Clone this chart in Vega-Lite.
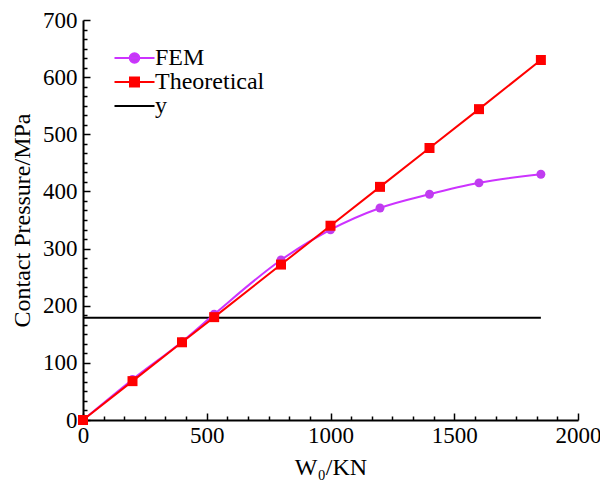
{
  "$schema": "https://vega.github.io/schema/vega-lite/v6.json",
  "width": 495,
  "height": 400,
  "autosize": "none",
  "padding": {"left": 83, "top": 20, "right": 22, "bottom": 60},
  "background": "white",
  "config": {
    "font": "Liberation Serif",
    "view": {"stroke": null},
    "axis": {
      "grid": false,
      "labelFont": "Liberation Serif",
      "labelFontSize": 23,
      "labelColor": "black",
      "titleFont": "Liberation Serif",
      "titleFontSize": 24,
      "titleFontWeight": "normal",
      "titleColor": "black",
      "domainColor": "black",
      "domainWidth": 2,
      "tickColor": "black",
      "tickWidth": 1.5,
      "labelFlush": false,
      "labelOverlap": false,
      "format": "d"
    }
  },
  "datasets": {
    "pts": [
      {"series": "FEM", "load": 0, "pressure": 0},
      {"series": "FEM", "load": 200, "pressure": 71},
      {"series": "FEM", "load": 400, "pressure": 137},
      {"series": "FEM", "load": 530, "pressure": 185},
      {"series": "FEM", "load": 800, "pressure": 280},
      {"series": "FEM", "load": 1000, "pressure": 333},
      {"series": "FEM", "load": 1200, "pressure": 371},
      {"series": "FEM", "load": 1400, "pressure": 395},
      {"series": "FEM", "load": 1600, "pressure": 415},
      {"series": "FEM", "load": 1850, "pressure": 430},
      {"series": "Theoretical", "load": 0, "pressure": 0},
      {"series": "Theoretical", "load": 200, "pressure": 68},
      {"series": "Theoretical", "load": 400, "pressure": 136},
      {"series": "Theoretical", "load": 530, "pressure": 180},
      {"series": "Theoretical", "load": 800, "pressure": 272},
      {"series": "Theoretical", "load": 1000, "pressure": 340},
      {"series": "Theoretical", "load": 1200, "pressure": 408},
      {"series": "Theoretical", "load": 1400, "pressure": 476},
      {"series": "Theoretical", "load": 1600, "pressure": 544},
      {"series": "Theoretical", "load": 1850, "pressure": 630},
      {"series": "y", "load": 0, "pressure": 179},
      {"series": "y", "load": 1850, "pressure": 179}
    ]
  },
  "data": {"name": "pts"},
  "layer": [
    {
      "transform": [{"filter": "datum.series === 'y'"}],
      "mark": {"type": "line", "strokeWidth": 2},
      "encoding": {
        "x": {
          "field": "load", "type": "quantitative",
          "scale": {"domain": [0, 2000], "nice": false},
          "axis": {"values": [0, 500, 1000, 1500, 2000], "tickSize": -7, "labelPadding": 11, "title": "W₀/KN", "orient": "bottom", "titlePadding": 8}
        },
        "y": {
          "field": "pressure", "type": "quantitative",
          "scale": {"domain": [0, 700], "nice": false},
          "axis": {"values": [0, 100, 200, 300, 400, 500, 600, 700], "tickSize": -7, "labelPadding": 13, "title": "Contact Pressure/MPa", "orient": "left", "titlePadding": 8}
        },
        "color": {
          "field": "series", "type": "nominal",
          "scale": {"domain": ["FEM", "Theoretical", "y"], "range": ["#CC33FF", "#FF0000", "#000000"]},
          "legend": {
            "orient": "none",
            "legendX": 39.5,
            "legendY": 26,
            "title": null,
            "labelFont": "Liberation Serif",
            "labelFontSize": 20,
            "labelColor": "black",
            "labelOffset": 8.5,
            "rowPadding": 0,
            "symbolSize": 400,
            "symbolStrokeWidth": 2,
            "encode": {
              "labels": {
                "update": {
                  "fontSize": {"value": 24}
                }
              },
              "symbols": {
                "update": {
                  "shape": {"signal": "datum.value === 'FEM' ? 'M-2,0H2M0.48,0A0.48,0.48,0,1,1,-0.48,0A0.48,0.48,0,1,1,0.48,0Z' : datum.value === 'Theoretical' ? 'M-2,0H2M-0.45,-0.45H0.45V0.45H-0.45Z' : 'M-2,0H2'"},
                  "fill": {"signal": "datum.value === 'FEM' ? '#C03CF0' : datum.value === 'Theoretical' ? '#FF0000' : 'transparent'"},
                  "stroke": {"signal": "datum.value === 'FEM' ? '#CC33FF' : datum.value === 'Theoretical' ? '#FF0000' : '#000000'"},
                  "strokeWidth": {"value": 2},
                  "opacity": {"value": 1}
                }
              }
            }
          }
        }
      }
    },
    {
      "transform": [{"filter": "datum.series === 'FEM'"}],
      "mark": {"type": "line", "strokeWidth": 2, "interpolate": "monotone"},
      "encoding": {
        "x": {
          "field": "load", "type": "quantitative",
          "axis": {"values": [83.333, 166.667, 250, 333.333, 416.667, 583.333, 666.667, 750, 833.333, 916.667, 1083.333, 1166.667, 1250, 1333.333, 1416.667, 1583.333, 1666.667, 1750, 1833.333, 1916.667], "tickSize": -4, "labels": false, "domain": false, "title": null, "orient": "bottom"}
        },
        "y": {
          "field": "pressure", "type": "quantitative",
          "axis": {"values": [16.667, 33.333, 50, 66.667, 83.333, 116.667, 133.333, 150, 166.667, 183.333, 216.667, 233.333, 250, 266.667, 283.333, 316.667, 333.333, 350, 366.667, 383.333, 416.667, 433.333, 450, 466.667, 483.333, 516.667, 533.333, 550, 566.667, 583.333, 616.667, 633.333, 650, 666.667, 683.333], "tickSize": -4, "labels": false, "domain": false, "title": null, "orient": "left"}
        },
        "color": {"field": "series", "type": "nominal"}
      }
    },
    {
      "transform": [{"filter": "datum.series === 'FEM'"}],
      "mark": {"type": "point", "shape": "circle", "filled": true, "size": 80, "color": "#C03CF0", "opacity": 1},
      "encoding": {
        "x": {"field": "load", "type": "quantitative", "axis": null},
        "y": {"field": "pressure", "type": "quantitative", "axis": null}
      }
    },
    {
      "transform": [{"filter": "datum.series === 'Theoretical'"}],
      "mark": {"type": "line", "strokeWidth": 2},
      "encoding": {
        "x": {"field": "load", "type": "quantitative", "axis": null},
        "y": {"field": "pressure", "type": "quantitative", "axis": null},
        "color": {"field": "series", "type": "nominal"}
      }
    },
    {
      "transform": [{"filter": "datum.series === 'Theoretical'"}],
      "mark": {"type": "point", "shape": "square", "filled": true, "size": 100, "color": "#FF0000", "opacity": 1},
      "encoding": {
        "x": {"field": "load", "type": "quantitative", "axis": null},
        "y": {"field": "pressure", "type": "quantitative", "axis": null}
      }
    }
  ],
  "resolve": {"axis": {"x": "independent", "y": "independent"}}
}
